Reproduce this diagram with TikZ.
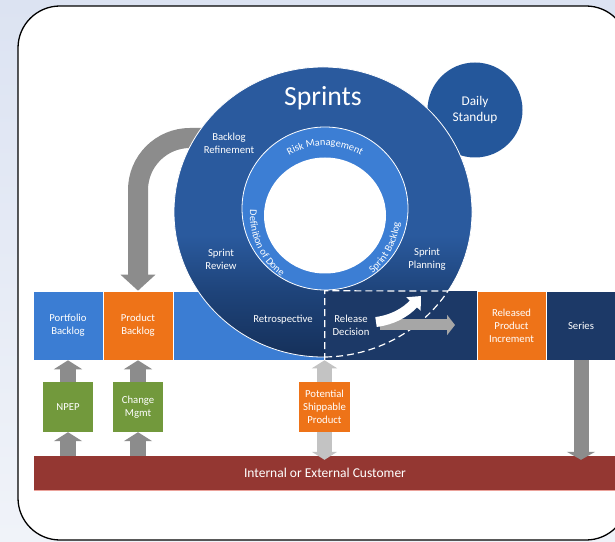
\documentclass[tikz,border=0pt]{standalone}
\usepackage{fontspec}
\setmainfont{Carlito}
\usetikzlibrary{arrows.meta,decorations.text}
\definecolor{bgtop}{HTML}{DCE3F2}
\definecolor{bgbot}{HTML}{F0F3F9}
\definecolor{sblue}{HTML}{2A5A9E}
\definecolor{smid}{HTML}{1E4379}
\definecolor{sdark}{HTML}{15305A}
\definecolor{dblue}{HTML}{24579B}
\definecolor{navy}{HTML}{1C3967}
\definecolor{lblue}{HTML}{3B7DD3}
\definecolor{ringblue}{HTML}{3C7ED4}
\definecolor{orng}{HTML}{EE7318}
\definecolor{grn}{HTML}{72993C}
\definecolor{custred}{HTML}{943732}
\definecolor{pinkline}{HTML}{EBA29B}
\definecolor{arrgray}{HTML}{8C8C8C}
\definecolor{lgray}{HTML}{C3C3C3}
\definecolor{rgray}{HTML}{A6A6A6}
\newcommand\lblfont{\fontsize{10.7}{13}\selectfont}
\newcommand\ringfont{\fontsize{10.3}{12}\selectfont}
\pgfdeclareverticalshading{sprintshade}{100bp}{color(0bp)=(sdark); color(25bp)=(sdark); color(36bp)=(smid); color(46bp)=(sblue); color(100bp)=(sblue)}
\begin{document}
\begin{tikzpicture}[x=1pt,y=1pt,
  box/.style={draw=white,line width=0.6pt,minimum height=69pt,inner sep=0pt,text=white,align=center,font=\lblfont},
  gbox/.style={fill=grn,minimum width=50pt,minimum height=50pt,inner sep=0pt,text=white,align=center,font=\lblfont},
  lbl/.style={text=white,align=center,font=\lblfont,inner sep=0pt},
  uparr/.style={draw=arrgray,line width=16pt,-{Triangle[width=28pt,length=9pt]}},
  dashwhite/.style={draw=white,line width=1.2pt,dash pattern=on 7pt off 4pt},
  ringtext/.style={decorate,decoration={text along path,text align=center,text={|\ringfont\color{white}|#1}}}
]
\useasboundingbox (0,0) rectangle (615,541);
\clip (0,0) rectangle (615,541);
\shade[top color=bgtop,bottom color=bgbot] (0,0) rectangle (615,541);
\draw[fill=white,line width=1.3pt,rounded corners=42pt] (18,1) rectangle (628,535);

% band
\node[box,fill=lblue,minimum width=70pt] (port) at (68,215.5) {Portfolio\\Backlog};
\node[box,fill=orng,minimum width=70pt] (prod) at (138,215.5) {Product\\Backlog};
\node[box,fill=lblue,minimum width=152pt] (bandL) at (249,215.5) {};
\node[box,fill=orng,minimum width=69pt] (rpi) at (511.5,215.5) {Released\\Product\\Increment};
\node[box,fill=navy,minimum width=70pt] (series) at (581,215.5) {Series};

% customer bar
\node[fill=custred,minimum width=582pt,minimum height=34pt,inner sep=0pt,text=white,font=\fontsize{13.5}{15}\selectfont] (cust) at (325,68) {Internal or External Customer};
\draw[pinkline,line width=1pt] (cust.south west) -- (cust.south east);

% green boxes
\node[gbox] (npep) at (68,134) {NPEP};
\node[gbox] (cm) at (138,134) {Change\\Mgmt};
\draw[uparr] (npep.north) -- (port.south);
\draw[uparr] (cm.north) -- (prod.south);
\draw[uparr] (npep.south |- cust.north) -- (npep.south);
\draw[uparr] (cm.south |- cust.north) -- (cm.south);

% backlog refinement arrow
\coordinate (brs) at (215,403);
\draw[draw=arrgray,line width=20pt,-{Triangle[width=34pt,length=16pt]}] (brs) -- (190,403) arc[start angle=90,end angle=180,radius=52] -- (prod.north);

% daily standup
\node[circle,fill=dblue,minimum size=95pt,inner sep=0pt,text=white,align=center,font=\fontsize{13.3}{16}\selectfont] (daily) at (475,431) {Daily\\Standup};

% sprints circle
\shade[shading=sprintshade] (323,329) ellipse[x radius=149,y radius=145];
\draw[white,line width=0.8pt] (323,329) ellipse[x radius=149,y radius=145];

% release decision region
\node[fill=navy,minimum width=152pt,minimum height=69pt,inner sep=0pt] (reldec) at (401,215.5) {};
\draw[dashwhite] (reldec.south west) -- (reldec.north west) -- (448,250);
\draw[dashwhite] (323,329) ++(-89.2:149 and 145) arc[start angle=-89.2,end angle=-33,x radius=149,y radius=145];

% ring
\fill[ringblue] (325,332.5) ellipse[x radius=83,y radius=81.5];
\draw[white,line width=0.8pt] (325,332.5) ellipse[x radius=83,y radius=81.5];
\fill[white] (325,325.5) ellipse[x radius=61,y radius=58];
\path[ringtext={Risk Management}] (325,325.5) ++(150:70) arc[start angle=150,end angle=30,radius=70];
\path[ringtext={Sprint Backlog}] (325,325.5) ++(-90:75) arc[start angle=-90,end angle=34,radius=75];
\path[ringtext={Definition of Done}] (325,325.5) ++(143:75) arc[start angle=143,end angle=267,radius=75];

% labels
\node[text=white,inner sep=0pt,font=\fontsize{27.7}{30}\selectfont] (sprints) at (323,443) {Sprints};
\node[lbl] (brlab) at (229,398) {Backlog\\Refinement};
\node[lbl] (srlab) at (221,282) {Sprint\\Review};
\node[lbl] (splab) at (427,282) {Sprint\\Planning};
\node[lbl] (retro) at (283,221) {Retrospective};
\node[lbl] (rdlab) at (351,215.5) {Release\\Decision};

% release arrows
\coordinate (rga) at (380,216);
\coordinate (rgb) at (455,216);
\draw[draw=rgray,line width=11pt,-{Triangle[width=20pt,length=8pt]}] (rga) -- (rgb);
\coordinate (rwa) at (376,219);
\coordinate (rwb) at (421,245);
\draw[draw=white,line width=10pt,-{Triangle[width=19pt,length=11pt]}] (rwa) .. controls (392,221) and (405,228) .. (rwb);

% series arrow
\draw[draw=arrgray,line width=15pt,-{Triangle[width=28pt,length=8pt]}] (series.south) -- ([yshift=-4pt]series.south |- cust.north);

% potential shippable product
\coordinate (potx) at (324.5,0);
\draw[draw=lgray,line width=15pt,{Triangle[width=25pt,length=8pt]}-{Triangle[width=25pt,length=8pt]}] (potx |- bandL.south) -- ([yshift=-4pt]potx |- cust.north);
\node[fill=orng,minimum width=51pt,minimum height=50pt,inner sep=0pt,text=white,align=center,font=\lblfont] (pot) at (324.5,134) {Potential\\Shippable\\Product};
\end{tikzpicture}
\end{document}
